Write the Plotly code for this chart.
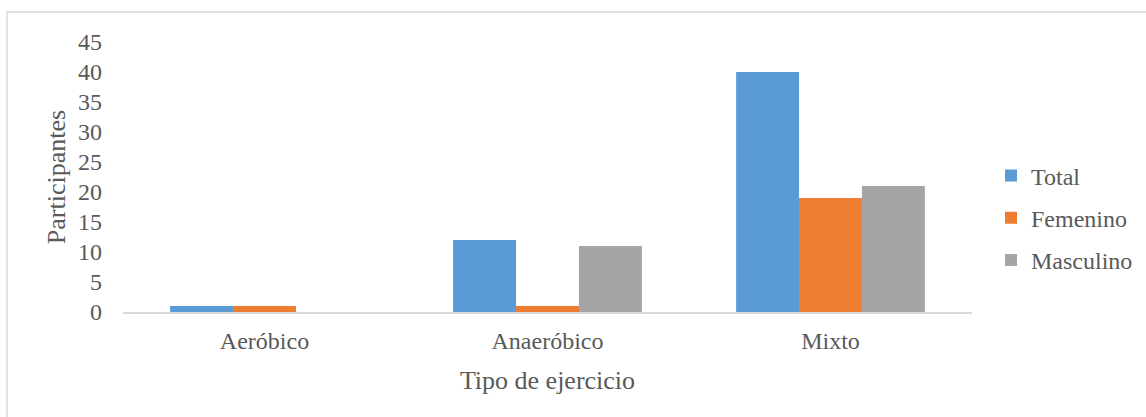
import plotly.graph_objects as go

# Exercise type categories and participant counts by group
categorias = ["Aeróbico", "Anaeróbico", "Mixto"]
total = [1, 12, 40]
femenino = [1, 1, 19]
masculino = [0, 11, 21]

series = [
    ("Total", total, "#5B9BD5"),
    ("Femenino", femenino, "#ED7D31"),
    ("Masculino", masculino, "#A5A5A5"),
]

W, H = 1146, 417
L, R, T, B = 123, 174, 42, 105
plot_w = W - L - R
plot_h = H - T - B

text_color = "#595959"
serif = "Liberation Serif"


def fnt(size):
    return dict(family=serif, size=size, color=text_color)


fig = go.Figure()
for nombre, valores, color in series:
    fig.add_trace(go.Bar(
        x=categorias, y=valores, name=nombre,
        marker=dict(color=color, line=dict(width=0)),
        legendgroup=nombre,
    ))


# light frame around the chart area (px -> paper coordinates)
def px_x(px):
    return (px - L) / plot_w


def px_y(py):
    return (H - B - py) / plot_h


fig.add_shape(
    type="rect", xref="paper", yref="paper",
    x0=px_x(7), x1=px_x(W + 20), y0=px_y(H + 20), y1=px_y(12),
    line=dict(color="#d9d9d9", width=1.5), fillcolor="rgba(0,0,0,0)",
    layer="below",
)

fig.update_layout(
    width=W, height=H,
    margin=dict(l=L, r=R, t=T, b=B, pad=0, autoexpand=False),
    paper_bgcolor="white", plot_bgcolor="white",
    font=fnt(24),
    barmode="group", bargap=0.333, bargroupgap=0,
    showlegend=True,
    legend=dict(
        x=px_x(991), xanchor="left",
        y=px_y(218), yanchor="middle",
        font=fnt(24),
        traceorder="grouped", tracegroupgap=8,
        itemwidth=30, bgcolor="rgba(0,0,0,0)",
    ),
    xaxis=dict(
        showline=True, linecolor="#d9d9d9", linewidth=2,
        showgrid=False, zeroline=False, ticks="",
        tickfont=fnt(24),
        ticklabelstandoff=6,
        title=dict(text="Tipo de ejercicio", font=fnt(26), standoff=18),
    ),
    yaxis=dict(
        range=[0, 45], dtick=5, tick0=0,
        showline=False, showgrid=False, zeroline=False, ticks="",
        tickfont=fnt(24),
        ticklabelstandoff=20,
        title=dict(text="Participantes", font=fnt(26), standoff=4),
    ),
)

fig.write_html("out.html")
